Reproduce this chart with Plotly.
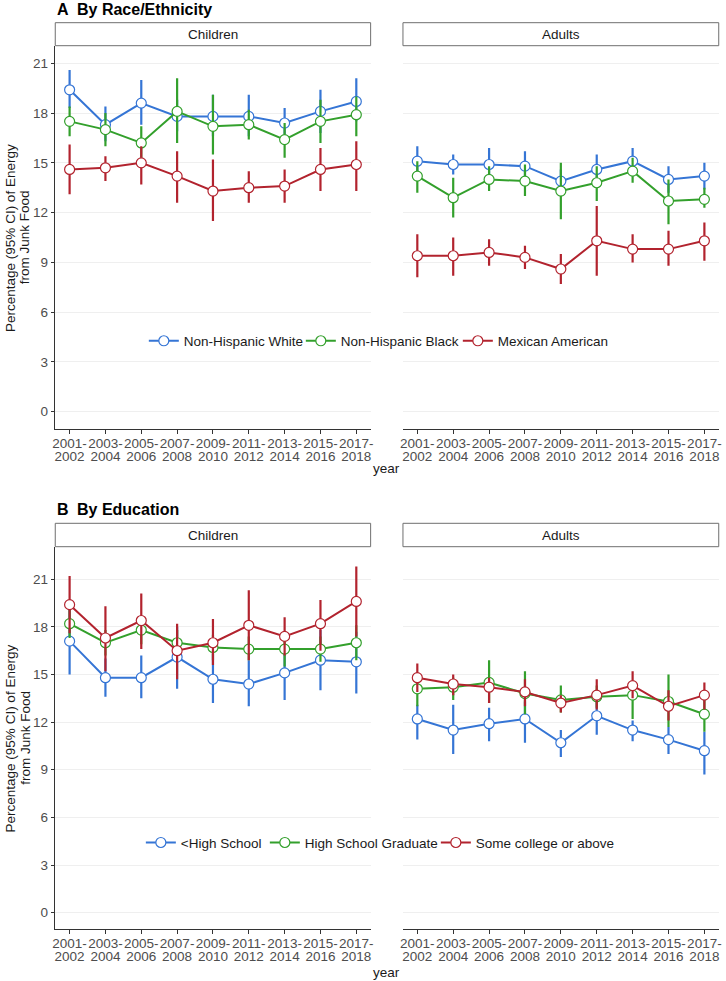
import plotly.graph_objects as go

W, H = 726, 981
FONT = "Liberation Sans, Arial, Helvetica, sans-serif"

periods = ["2001-2002", "2003-2004", "2005-2006", "2007-2008", "2009-2010",
           "2011-2012", "2013-2014", "2015-2016", "2017-2018"]
tick_line1 = [p.split("-")[0] + "-" for p in periods]
tick_line2 = [p.split("-")[1] for p in periods]
y_ticks = [0, 3, 6, 9, 12, 15, 18, 21]

# ---- Panel A: by race/ethnicity ----
race_groups = ["Non-Hispanic White", "Non-Hispanic Black", "Mexican American"]
# Children
a_child_white_est = [19.4, 17.3, 18.6, 17.8, 17.8, 17.8, 17.4, 18.1, 18.7]
a_child_white_lo = [18.3, 16.3, 17.3, 16.9, 16.6, 16.6, 16.5, 16.8, 17.5]
a_child_white_hi = [20.6, 18.4, 20.0, 18.8, 19.1, 19.1, 18.3, 19.4, 20.1]
a_child_black_est = [17.5, 17.0, 16.2, 18.1, 17.2, 17.3, 16.4, 17.5, 17.9]
a_child_black_lo = [16.6, 16.0, 15.2, 16.2, 15.5, 16.4, 15.3, 16.2, 16.6]
a_child_black_hi = [18.4, 18.0, 17.2, 20.1, 19.1, 18.2, 17.4, 18.8, 19.0]
a_child_mex_est = [14.6, 14.7, 15.0, 14.2, 13.3, 13.5, 13.6, 14.6, 14.9]
a_child_mex_lo = [13.1, 13.9, 13.7, 12.6, 11.5, 12.6, 12.6, 13.3, 13.3]
a_child_mex_hi = [16.1, 15.4, 16.0, 15.7, 15.2, 14.5, 14.6, 15.9, 16.3]
# Adults
a_adult_white_est = [15.1, 14.9, 14.9, 14.8, 13.9, 14.6, 15.1, 14.0, 14.2]
a_adult_white_lo = [14.3, 14.3, 14.0, 13.9, 13.2, 13.8, 14.3, 13.2, 13.4]
a_adult_white_hi = [16.0, 15.5, 15.9, 15.7, 14.6, 15.5, 15.9, 14.8, 15.0]
a_adult_black_est = [14.2, 12.9, 14.0, 13.9, 13.3, 13.8, 14.5, 12.7, 12.8]
a_adult_black_lo = [13.2, 11.7, 13.3, 13.0, 11.6, 12.7, 13.8, 11.3, 12.3]
a_adult_black_hi = [15.1, 14.1, 14.8, 14.9, 15.0, 14.8, 15.3, 14.0, 13.5]
a_adult_mex_est = [9.4, 9.4, 9.6, 9.3, 8.6, 10.3, 9.8, 9.8, 10.3]
a_adult_mex_lo = [8.1, 8.2, 8.8, 8.6, 7.7, 8.2, 9.0, 8.8, 9.1]
a_adult_mex_hi = [10.7, 10.5, 10.4, 10.0, 9.5, 12.4, 10.7, 10.9, 11.4]

# ---- Panel B: by education ----
edu_groups = ["<High School", "High School Graduate", "Some college or above"]
# Children
b_child_lths_est = [17.1, 14.8, 14.8, 16.1, 14.7, 14.4, 15.1, 15.9, 15.8]
b_child_lths_lo = [15.0, 13.6, 13.5, 14.1, 13.2, 13.0, 13.4, 14.0, 13.8]
b_child_lths_hi = [19.2, 16.0, 16.2, 18.0, 16.3, 15.9, 16.7, 17.8, 17.7]
b_child_hsg_est = [18.2, 17.0, 17.8, 17.0, 16.7, 16.6, 16.6, 16.6, 17.0]
b_child_hsg_lo = [17.3, 16.2, 16.9, 16.2, 15.9, 15.9, 15.5, 15.8, 15.9]
b_child_hsg_hi = [19.1, 17.8, 18.7, 17.8, 17.5, 17.4, 17.7, 17.4, 18.1]
b_child_coll_est = [19.4, 17.3, 18.4, 16.5, 17.0, 18.1, 17.4, 18.2, 19.6]
b_child_coll_lo = [17.6, 15.2, 16.6, 14.7, 15.6, 15.9, 16.2, 16.5, 17.4]
b_child_coll_hi = [21.2, 19.3, 20.1, 18.2, 18.5, 20.3, 18.6, 19.7, 21.8]
# Adults
b_adult_lths_est = [12.2, 11.5, 11.9, 12.2, 10.7, 12.4, 11.5, 10.9, 10.2]
b_adult_lths_lo = [10.9, 10.0, 10.8, 10.7, 9.8, 11.2, 10.8, 10.0, 8.7]
b_adult_lths_hi = [13.1, 13.1, 12.9, 13.3, 11.5, 13.4, 12.1, 11.7, 11.4]
b_adult_hsg_est = [14.1, 14.2, 14.5, 13.8, 13.4, 13.6, 13.7, 13.3, 12.5]
b_adult_hsg_lo = [13.0, 13.4, 13.2, 12.5, 12.6, 12.9, 12.2, 11.7, 11.4]
b_adult_hsg_hi = [14.9, 14.8, 15.9, 15.2, 14.3, 14.3, 14.5, 15.0, 13.4]
b_adult_coll_est = [14.8, 14.4, 14.2, 13.9, 13.2, 13.7, 14.3, 13.0, 13.7]
b_adult_coll_lo = [13.9, 13.7, 13.2, 13.0, 12.6, 12.8, 13.5, 12.1, 12.8]
b_adult_coll_hi = [15.7, 15.0, 14.8, 14.7, 13.7, 14.7, 15.2, 14.0, 14.5]

colors = ["#3575D5", "#33A02C", "#B2232E"]

def px(x):
    return x / W

def py(y):
    return 1 - y / H

x_idx = list(range(len(periods)))

fig = go.Figure()

# legend entry widths (px) tuned to the reference spacing
race_legend_w = [112, 112, 118]
edu_legend_w = [79, 126, 150]

panels = [
    ("x", "y", "legend", race_groups, race_legend_w,
     [(a_child_white_est, a_child_white_lo, a_child_white_hi),
      (a_child_black_est, a_child_black_lo, a_child_black_hi),
      (a_child_mex_est, a_child_mex_lo, a_child_mex_hi)], True),
    ("x2", "y2", "legend", race_groups, race_legend_w,
     [(a_adult_white_est, a_adult_white_lo, a_adult_white_hi),
      (a_adult_black_est, a_adult_black_lo, a_adult_black_hi),
      (a_adult_mex_est, a_adult_mex_lo, a_adult_mex_hi)], False),
    ("x3", "y3", "legend2", edu_groups, edu_legend_w,
     [(b_child_lths_est, b_child_lths_lo, b_child_lths_hi),
      (b_child_hsg_est, b_child_hsg_lo, b_child_hsg_hi),
      (b_child_coll_est, b_child_coll_lo, b_child_coll_hi)], True),
    ("x4", "y4", "legend2", edu_groups, edu_legend_w,
     [(b_adult_lths_est, b_adult_lths_lo, b_adult_lths_hi),
      (b_adult_hsg_est, b_adult_hsg_lo, b_adult_hsg_hi),
      (b_adult_coll_est, b_adult_coll_lo, b_adult_coll_hi)], False),
]

for xa, ya, leg, groups, lw, series, showleg in panels:
    for name, (est, lo, hi), col, wleg in zip(groups, series, colors, lw):
        fig.add_trace(go.Scatter(
            x=x_idx, y=est, name=name, mode="lines+markers",
            xaxis=xa, yaxis=ya, legend=leg, showlegend=showleg,
            legendwidth=wleg,
            line=dict(color=col, width=2),
            marker=dict(symbol="circle", size=10, color="white",
                        line=dict(color=col, width=1.2)),
            error_y=dict(type="data", symmetric=False,
                         array=[h - e for e, h in zip(est, hi)],
                         arrayminus=[e - l for e, l in zip(est, lo)],
                         width=0, thickness=2.2, color=col),
        ))

# empty helper traces so the second-line tick axes get drawn
for xa, ya in [("x5", "y"), ("x6", "y2"), ("x7", "y3"), ("x8", "y4")]:
    fig.add_trace(go.Scatter(x=x_idx, y=[None] * len(x_idx), xaxis=xa, yaxis=ya,
                             mode="lines", showlegend=False, hoverinfo="skip"))

child_x = (52.7, 370.7)
adult_x = (403.3, 721.7)
a_y = (45.7, 429.3)
b_y = (546.7, 929.3)
a_range = [-1.06, 22.06]
b_range = [-1.05, 23.05]
x_range = [-0.4, len(periods) - 1 + 0.4]

tickfont = dict(family=FONT, size=13.5, color="#4d4d4d")
AX = "#333333"

def xaxis_main(dom, anchor):
    return dict(domain=[px(dom[0]), px(dom[1])], anchor=anchor, range=x_range,
                tickmode="array", tickvals=x_idx, ticktext=tick_line1, tickangle=0,
                showline=True, linecolor=AX, linewidth=1.1, ticks="outside",
                ticklen=4, tickwidth=1, tickcolor=AX, showgrid=False,
                zeroline=False, tickfont=tickfont, fixedrange=True,
                ticklabelstandoff=-3)

def xaxis_second(dom, over, ybottom):
    return dict(domain=[px(dom[0]), px(dom[1])], overlaying=over, anchor="free",
                position=py(ybottom + 17.0), range=x_range, tickmode="array",
                tickvals=x_idx, ticktext=tick_line2, tickangle=0, showline=False,
                ticks="", showgrid=False, zeroline=False, tickfont=tickfont,
                side="bottom", fixedrange=True)

def yaxis(dom, anchor, rng, left):
    d = dict(domain=[py(dom[1]), py(dom[0])], anchor=anchor, range=rng,
             tickmode="array", tickvals=y_ticks, showgrid=True,
             gridcolor="#efefef", gridwidth=1, zeroline=False, fixedrange=True)
    if left:
        d.update(showline=True, linecolor=AX, linewidth=1.1, ticks="outside",
                 ticklen=3.5, tickwidth=1, tickcolor=AX, tickfont=tickfont,
                 showticklabels=True)
    else:
        d.update(showline=False, ticks="", showticklabels=False)
    return d

legend_style = dict(orientation="h", xanchor="left", yanchor="middle",
                    bgcolor="rgba(0,0,0,0)", itemwidth=30, tracegroupgap=0,
                    font=dict(family=FONT, size=13.5, color="#1a1a1a"))

fig.update_layout(
    width=W, height=H, autosize=False,
    margin=dict(l=0, r=0, t=0, b=0),
    paper_bgcolor="white", plot_bgcolor="white",
    font=dict(family=FONT, size=13.5, color="#1a1a1a"),
    xaxis=xaxis_main(child_x, "y"),
    xaxis2=xaxis_main(adult_x, "y2"),
    xaxis3=xaxis_main(child_x, "y3"),
    xaxis4=xaxis_main(adult_x, "y4"),
    xaxis5=xaxis_second(child_x, "x", a_y[1]),
    xaxis6=xaxis_second(adult_x, "x2", a_y[1]),
    xaxis7=xaxis_second(child_x, "x3", b_y[1]),
    xaxis8=xaxis_second(adult_x, "x4", b_y[1]),
    yaxis=yaxis(a_y, "x", a_range, True),
    yaxis2=yaxis(a_y, "x2", a_range, False),
    yaxis3=yaxis(b_y, "x3", b_range, True),
    yaxis4=yaxis(b_y, "x4", b_range, False),
    legend=dict(legend_style, x=px(142), y=py(341)),
    legend2=dict(legend_style, x=px(139), y=py(842.7)),
    showlegend=True,
)

shapes = []
annotations = []

strip_specs = [(child_x, (22.7, a_y[0]), "Children"), (adult_x, (22.7, a_y[0]), "Adults"),
               (child_x, (523.3, b_y[0]), "Children"), (adult_x, (523.3, b_y[0]), "Adults")]
for (x0, x1), (y0, y1), label in strip_specs:
    shapes.append(dict(type="rect", xref="paper", yref="paper",
                       x0=px(x0), x1=px(x1), y0=py(y1), y1=py(y0),
                       line=dict(color="#6f6f6f", width=1), fillcolor="white",
                       layer="above"))
    annotations.append(dict(text=label, xref="paper", yref="paper",
                            x=px((x0 + x1) / 2), y=py((y0 + y1) / 2),
                            xanchor="center", yanchor="middle", showarrow=False,
                            font=dict(family=FONT, size=13.5, color="#1a1a1a")))

for letter, title, ycen in [("A", "By Race/Ethnicity", 9.5), ("B", "By Education", 509)]:
    annotations.append(dict(text="<b>%s</b>" % letter, xref="paper", yref="paper",
                            x=px(52), y=py(ycen), xanchor="left", yanchor="middle",
                            showarrow=False, font=dict(family=FONT, size=16, color="black")))
    annotations.append(dict(text="<b>%s</b>" % title, xref="paper", yref="paper",
                            x=px(72.5), y=py(ycen), xanchor="left", yanchor="middle",
                            showarrow=False, font=dict(family=FONT, size=16, color="black")))

for (y0, y1), yr in [(a_y, 468), (b_y, 972.7)]:
    yc = (y0 + y1) / 2
    annotations.append(dict(text="Percentage (95% CI) of Energy", xref="paper", yref="paper",
                            x=px(7.5), y=py(yc), xanchor="center", yanchor="middle",
                            textangle=-90, showarrow=False,
                            font=dict(family=FONT, size=13.5, color="#1a1a1a")))
    annotations.append(dict(text="from Junk Food", xref="paper", yref="paper",
                            x=px(22), y=py(yc), xanchor="center", yanchor="middle",
                            textangle=-90, showarrow=False,
                            font=dict(family=FONT, size=13.5, color="#1a1a1a")))
    annotations.append(dict(text="year", xref="paper", yref="paper",
                            x=px(387), y=py(yr), xanchor="center", yanchor="middle",
                            showarrow=False,
                            font=dict(family=FONT, size=13.5, color="#1a1a1a")))

fig.update_layout(shapes=shapes, annotations=annotations)
fig.write_html("out.html", config={"displayModeBar": False},
               post_script="document.body.style.margin='0';document.body.style.overflow='hidden';")
